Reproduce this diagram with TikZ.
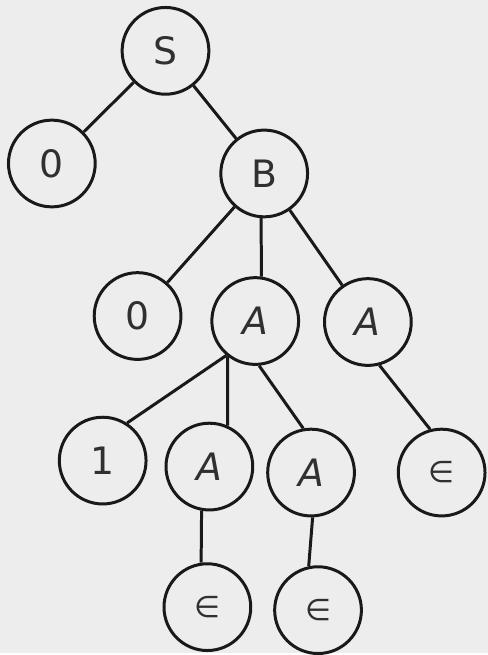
\documentclass[tikz,border=0pt]{standalone}
\usepackage{fontspec}
\setmainfont{DejaVu Sans}
\definecolor{paper}{RGB}{237,237,237}
\definecolor{ink}{RGB}{25,25,25}
\begin{document}
\begin{tikzpicture}[x=1bp,y=-1bp,
  vertex/.style={draw=ink,circle,line width=3bp,minimum size=87bp,inner sep=0pt,
    text=ink!90,font=\fontsize{38}{40}\selectfont},
  edge/.style={ink,line width=3bp}]
\fill[paper] (0,0) rectangle (489,655);
% parse tree
\node[vertex] (nS) at (166,51) {S};
\node[vertex] (n0) at (52,164) {0};
\node[vertex] (nB) at (265,174) {B};
\node[vertex] (n0b) at (138,317) {0};
\node[vertex] (nA1) at (256,322) {\itshape A};
\node[vertex] (nA2) at (369,323) {\itshape A};
\node[vertex] (n1) at (103,462) {1};
\node[vertex] (nA3) at (210,468) {\itshape A};
\node[vertex] (nA4) at (312,474) {\itshape A};
\node[vertex] (eps3) at (443,474) {\fontsize{30}{32}\selectfont ∈};
\node[vertex] (eps1) at (208,609) {\fontsize{30}{32}\selectfont ∈};
\node[vertex] (eps2) at (319,612) {\fontsize{30}{32}\selectfont ∈};
\draw[edge] (nS) -- (n0);
\draw[edge] (nS) -- (nB);
\draw[edge] (nB) -- (n0b);
\draw[edge] (nB.266) -- (nA1.82);
\draw[edge] (nB) -- (nA2);
\draw[edge] (nA1.230) -- (n1.57);
\draw[edge] (nA1.232) -- (nA3.66);
\draw[edge] (nA1.275) -- (nA4.100);
\draw[edge] (nA2.285) -- (eps3.105);
\draw[edge] (nA3.260) -- (eps1.98);
\draw[edge] (nA4.272) -- (eps2.102);
\end{tikzpicture}
\end{document}
